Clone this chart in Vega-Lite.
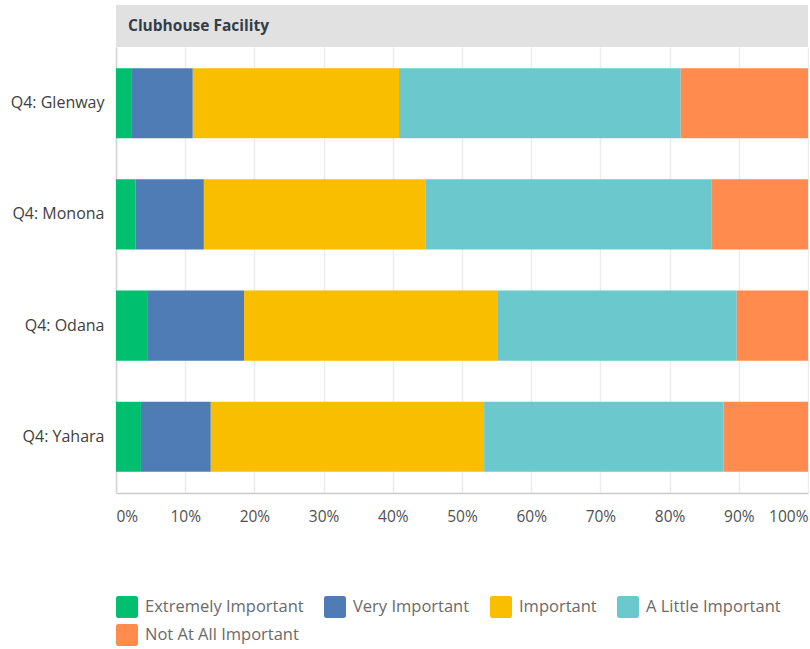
{
  "$schema": "https://vega.github.io/schema/vega-lite/v6.json",
  "padding": {"left": 10, "top": 5, "right": 1, "bottom": 0},
  "background": "white",
  "config": {"font": "Open Sans", "view": {"stroke": null}, "concat": {"spacing": 0}},
  "vconcat": [
    {
      "width": 692,
      "height": 42,
      "view": {"fill": "#e1e1e1", "stroke": null},
      "data": {"values": [{"title": "Clubhouse Facility"}]},
      "mark": {"type": "text", "align": "left", "baseline": "middle", "dx": 12, "fontSize": 15.5, "fontWeight": "bold", "color": "#333e48"},
      "encoding": {
        "text": {"field": "title", "type": "nominal"},
        "x": {"datum": 0, "type": "quantitative", "scale": {"domain": [0, 1]}, "axis": null}
      }
    },
    {
      "width": 692,
      "height": 446,
      "data": {
        "values": [
          {"location": "Q4: Glenway", "response": "Extremely Important", "rank": 1, "pct": 2.3},
          {"location": "Q4: Glenway", "response": "Very Important", "rank": 2, "pct": 8.8},
          {"location": "Q4: Glenway", "response": "Important", "rank": 3, "pct": 29.8},
          {"location": "Q4: Glenway", "response": "A Little Important", "rank": 4, "pct": 40.7},
          {"location": "Q4: Glenway", "response": "Not At All Important", "rank": 5, "pct": 18.4},
          {"location": "Q4: Monona", "response": "Extremely Important", "rank": 1, "pct": 2.8},
          {"location": "Q4: Monona", "response": "Very Important", "rank": 2, "pct": 9.9},
          {"location": "Q4: Monona", "response": "Important", "rank": 3, "pct": 32.0},
          {"location": "Q4: Monona", "response": "A Little Important", "rank": 4, "pct": 41.4},
          {"location": "Q4: Monona", "response": "Not At All Important", "rank": 5, "pct": 13.9},
          {"location": "Q4: Odana", "response": "Extremely Important", "rank": 1, "pct": 4.5},
          {"location": "Q4: Odana", "response": "Very Important", "rank": 2, "pct": 14.0},
          {"location": "Q4: Odana", "response": "Important", "rank": 3, "pct": 36.7},
          {"location": "Q4: Odana", "response": "A Little Important", "rank": 4, "pct": 34.5},
          {"location": "Q4: Odana", "response": "Not At All Important", "rank": 5, "pct": 10.3},
          {"location": "Q4: Yahara", "response": "Extremely Important", "rank": 1, "pct": 3.6},
          {"location": "Q4: Yahara", "response": "Very Important", "rank": 2, "pct": 10.1},
          {"location": "Q4: Yahara", "response": "Important", "rank": 3, "pct": 39.5},
          {"location": "Q4: Yahara", "response": "A Little Important", "rank": 4, "pct": 34.6},
          {"location": "Q4: Yahara", "response": "Not At All Important", "rank": 5, "pct": 12.2}
        ]
      },
      "mark": {"type": "bar"},
      "encoding": {
        "y": {
          "field": "location",
          "type": "nominal",
          "sort": ["Q4: Glenway", "Q4: Monona", "Q4: Odana", "Q4: Yahara"],
          "scale": {"paddingInner": 0.37, "paddingOuter": 0.19},
          "axis": {"title": null, "ticks": false, "labelFontSize": 16, "labelColor": "#404040", "labelPadding": 12, "domainColor": "#d4d4d4", "domainWidth": 1.5, "grid": false}
        },
        "x": {
          "field": "pct",
          "type": "quantitative",
          "stack": "normalize",
          "scale": {"domain": [0, 1], "nice": false},
          "axis": {"title": null, "format": ".0%", "values": [0, 0.1, 0.2, 0.3, 0.4, 0.5, 0.6, 0.7, 0.8, 0.9, 1], "ticks": false, "labelFlush": true, "labelFontSize": 15.5, "labelColor": "#505050", "labelPadding": 16, "grid": true, "gridColor": "#ececec", "gridWidth": 1.5, "domainColor": "#cccccc", "domainWidth": 1.5}
        },
        "color": {
          "field": "response",
          "type": "nominal",
          "scale": {
            "domain": ["Extremely Important", "Very Important", "Important", "A Little Important", "Not At All Important"],
            "range": ["#00bf6f", "#507cb6", "#f9be00", "#6bc8cd", "#ff8b4f"]
          },
          "legend": {
            "title": null,
            "orient": "bottom",
            "direction": "horizontal",
            "columns": 4,
            "symbolType": "M-0.8,-1H0.8A0.2,0.2,0,0,1,1,-0.8V0.8A0.2,0.2,0,0,1,0.8,1H-0.8A0.2,0.2,0,0,1,-1,0.8V-0.8A0.2,0.2,0,0,1,-0.8,-1Z",
            "symbolSize": 484,
            "symbolStrokeWidth": 0,
            "symbolOpacity": 1,
            "labelFontSize": 16.5,
            "labelColor": "#6a6a6a",
            "labelOffset": 7,
            "columnPadding": 20,
            "rowPadding": 6,
            "offset": 71
          }
        },
        "order": {"field": "rank", "type": "quantitative"}
      }
    }
  ]
}
